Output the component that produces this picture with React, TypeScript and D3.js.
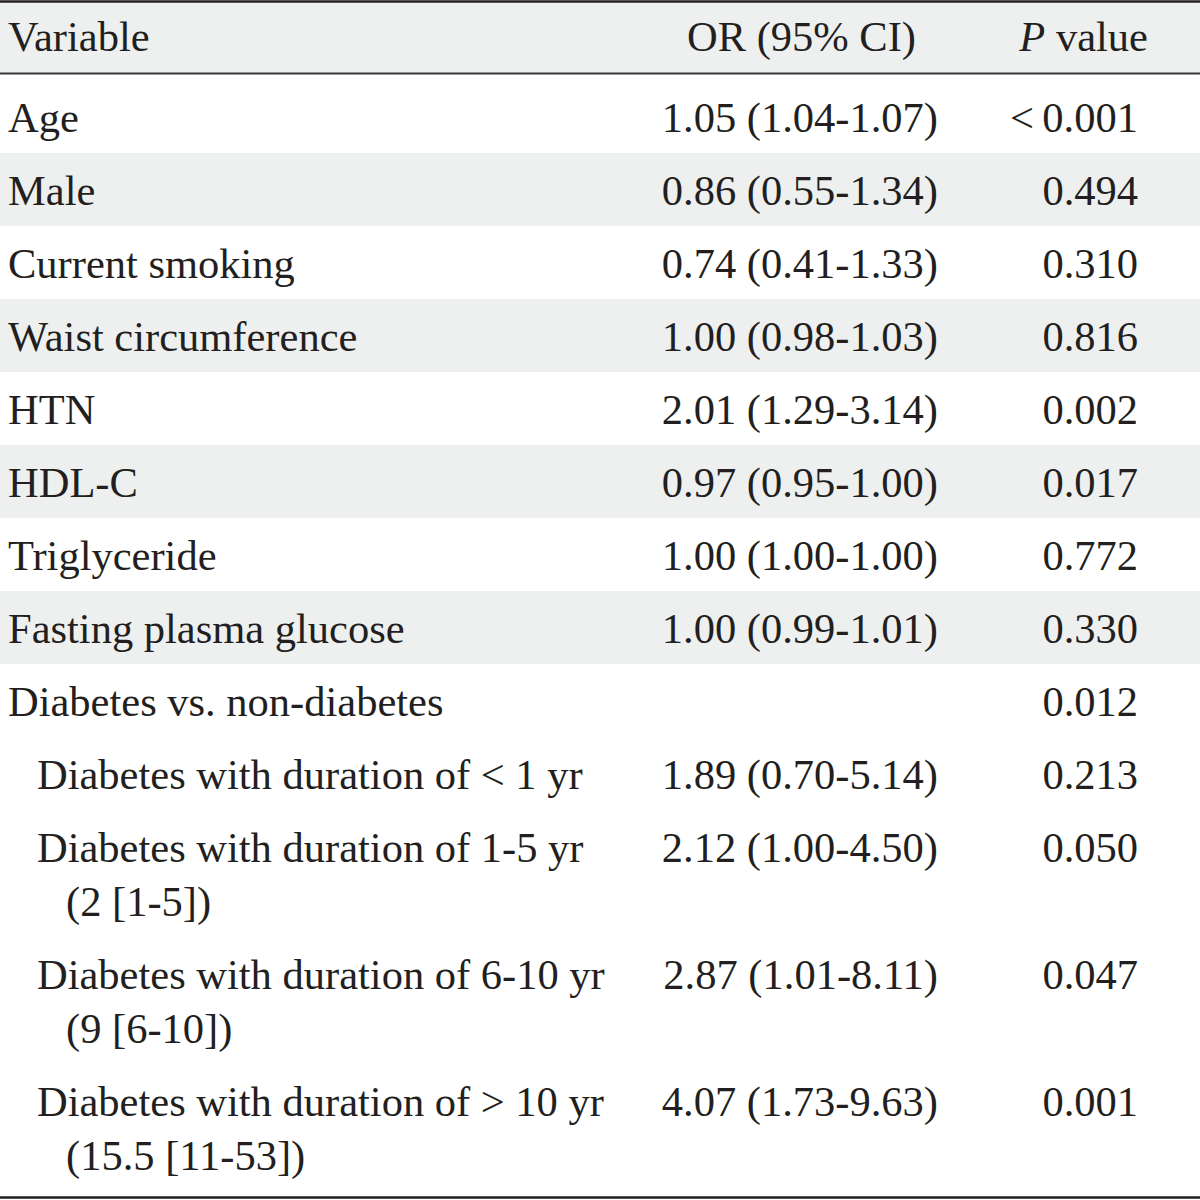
import React from "react";
import * as d3 from "d3";

const variables: string[] = [
  "Age",
  "Male",
  "Current smoking",
  "Waist circumference",
  "HTN",
  "HDL-C",
  "Triglyceride",
  "Fasting plasma glucose",
  "Diabetes vs. non-diabetes",
  "Diabetes with duration of < 1 yr",
  "Diabetes with duration of 1-5 yr",
  "Diabetes with duration of 6-10 yr",
  "Diabetes with duration of > 10 yr",
];
const subLines: string[] = ["", "", "", "", "", "", "", "", "", "", "(2 [1-5])", "(9 [6-10])", "(15.5 [11-53])"];
const indented: boolean[] = [false, false, false, false, false, false, false, false, false, true, true, true, true];
const orValues: string[] = [
  "1.05 (1.04-1.07)",
  "0.86 (0.55-1.34)",
  "0.74 (0.41-1.33)",
  "1.00 (0.98-1.03)",
  "2.01 (1.29-3.14)",
  "0.97 (0.95-1.00)",
  "1.00 (1.00-1.00)",
  "1.00 (0.99-1.01)",
  "",
  "1.89 (0.70-5.14)",
  "2.12 (1.00-4.50)",
  "2.87 (1.01-8.11)",
  "4.07 (1.73-9.63)",
];
const pValues: string[] = [
  "<\u20090.001", "0.494", "0.310", "0.816", "0.002", "0.017", "0.772", "0.330",
  "0.012", "0.213", "0.050", "0.047", "0.001",
];
const shaded: boolean[] = [false, true, false, true, false, true, false, true, false, false, false, false, false];

const W = 1200;
const H = 1200;
const FONT = "'Liberation Serif', 'Times New Roman', serif";
const FS = 42.5;
const TEXT = "#231f20";
const GRAY = "#eef0f0";

export default function App() {
  const headerTop = 3;
  const headerBottom = 73;
  const rowH = 73;
  const lineGap = 54;
  const heights = variables.map((_, i) => (subLines[i] ? rowH + lineGap : rowH));
  const tops: number[] = [];
  let acc = headerBottom + 8;
  heights.forEach((h) => { tops.push(acc); acc += h; });
  const rowStart = d3.scaleLinear().domain([0, 1]).range([0, 1]);

  const xVar = 8;
  const xIndent = 37;
  const xSub = 66;
  const xOR = 938;
  const xP = 1138;

  return (
    <svg width={W} height={H} style={{ position: "absolute", left: 0, top: 0, background: "#fff" }}>
      <rect x={0} y={0} width={W} height={H} fill="#fff" />
      <rect x={0} y={headerTop} width={W} height={headerBottom - headerTop} fill={GRAY} />
      {variables.map((v, i) =>
        shaded[i] ? (
          <rect key={"bg" + i} x={0} y={tops[i] - 1} width={W} height={heights[i]} fill={GRAY} />
        ) : null
      )}
      <line x1={0} x2={W} y1={1.5} y2={1.5} stroke="#231f20" strokeWidth={2.5} />
      <line x1={0} x2={W} y1={73.5} y2={73.5} stroke="#3a3838" strokeWidth={2} />
      <line x1={0} x2={W} y1={1197.5} y2={1197.5} stroke="#231f20" strokeWidth={2.5} />

      <g fontFamily={FONT} fontSize={FS} fill={TEXT}>
        <text x={xVar} y={51}>Variable</text>
        <text x={916} y={51} textAnchor="end">OR (95% CI)</text>
        <text x={1148} y={51} textAnchor="end">
          <tspan fontStyle="italic">P</tspan> value
        </text>
        {variables.map((v, i) => {
          const base = rowStart(tops[i]) + 51;
          return (
            <g key={"r" + i}>
              <text x={indented[i] ? xIndent : xVar} y={base}>{v}</text>
              {subLines[i] ? <text x={xSub} y={base + lineGap}>{subLines[i]}</text> : null}
              {orValues[i] ? <text x={xOR} y={base} textAnchor="end">{orValues[i]}</text> : null}
              <text x={xP} y={base} textAnchor="end">{pValues[i]}</text>
            </g>
          );
        })}
      </g>
    </svg>
  );
}
